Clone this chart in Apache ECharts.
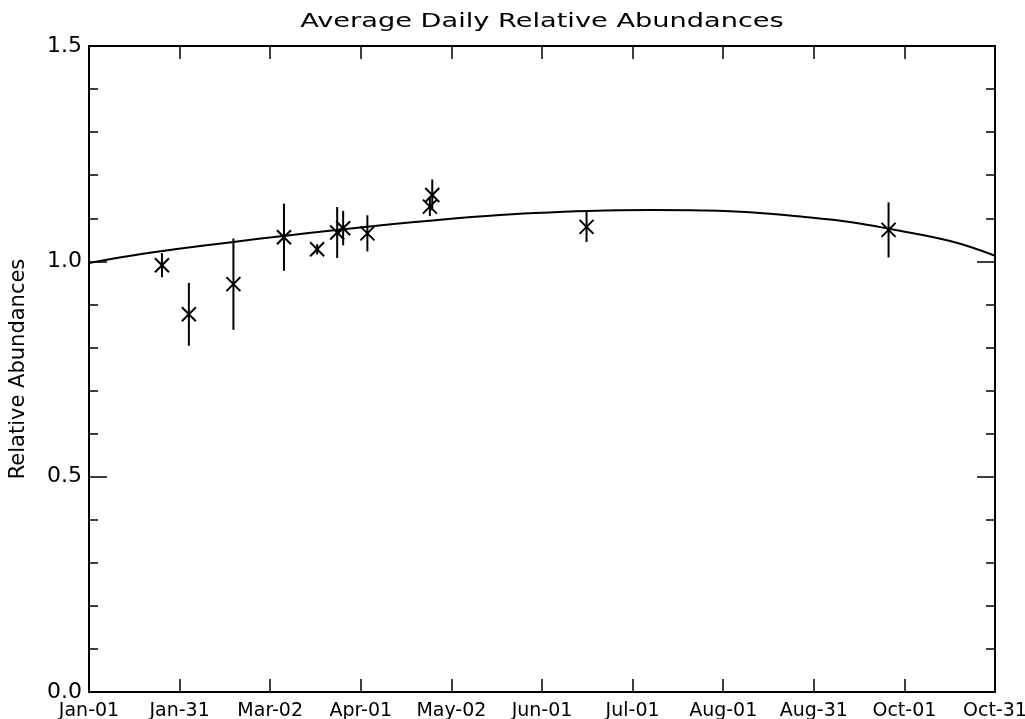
<!DOCTYPE html>
<html>
<head>
<meta charset="utf-8">
<title>Average Daily Relative Abundances</title>
<script src="https://cdn.jsdelivr.net/npm/echarts@6/dist/echarts.min.js"></script>
<style>
  html, body { margin: 0; padding: 0; background: #fff; }
  #chart { width: 1025px; height: 719px; }
</style>
</head>
<body>
<div id="chart"></div>
<script>
// Day-of-season axis: 0 = Jan-01, ticks every 30.3 days up to Oct-31
const xTickLabels = ['Jan-01', 'Jan-31', 'Mar-02', 'Apr-01', 'May-02', 'Jun-01',
                     'Jul-01', 'Aug-01', 'Aug-31', 'Oct-01', 'Oct-31'];
const xTickStep = 30.3;
const xMax = 303;

// Observed daily averages with their uncertainties
const obsDay   = [24.4, 33.4, 48.3, 65.2, 76.3, 83.0, 85.0, 93.1, 114.0, 114.8, 166.4, 267.4];
const obsValue = [0.991, 0.877, 0.947, 1.056, 1.028, 1.067, 1.077, 1.065, 1.127, 1.154, 1.080, 1.073];
const obsError = [0.028, 0.073, 0.106, 0.078, 0.012, 0.059, 0.040, 0.042, 0.022, 0.036, 0.035, 0.064];

// Seasonal fit curve
const fitDay   = [0, 15, 30, 47, 65, 82, 101, 115, 133, 149, 167, 188, 205, 221, 238, 255, 268, 288, 303];
const fitValue = [0.996, 1.014, 1.029, 1.044, 1.059, 1.072, 1.086, 1.095, 1.105, 1.112, 1.117,
                  1.119, 1.118, 1.114, 1.104, 1.091, 1.075, 1.047, 1.013];

const chartTitle = 'Average Daily Relative Abundances';

const FONT = 'DejaVu Sans';
const INK = '#000';

const obsData = obsDay.map((d, i) => [d, obsValue[i], obsError[i]]);
const fitData = fitDay.map((d, i) => [d, fitValue[i]]);

const chart = echarts.init(document.getElementById('chart'), null, { renderer: 'canvas' });

const xAxisBase = {
  type: 'value',
  min: 0,
  max: xMax,
  interval: xTickStep,
  splitLine: { show: false },
  axisLine: { show: true, onZero: false, lineStyle: { color: INK, width: 2 } },
  axisTick: { show: true, inside: true, length: 13, lineStyle: { color: INK, width: 1.5 } }
};
const yAxisBase = {
  type: 'value',
  min: 0,
  max: 1.5,
  interval: 0.5,
  splitLine: { show: false },
  axisLine: { show: true, onZero: false, lineStyle: { color: INK, width: 2 } },
  axisTick: { show: true, inside: true, length: 18, lineStyle: { color: INK, width: 1.5 } },
  minorTick: { show: true, splitNumber: 5, length: 9, lineStyle: { color: INK, width: 1.5 } }
};

chart.setOption({
  backgroundColor: '#fff',
  animation: false,
  // Wide, light lettering for the heading, centred over the plot frame
  graphic: [{
    type: 'text',
    x: 542,
    y: 22,
    scaleX: 1.36,
    style: {
      text: chartTitle,
      fontFamily: FONT,
      fontSize: 20,
      fill: INK,
      textAlign: 'center',
      textVerticalAlign: 'middle'
    }
  }],
  grid: { left: 89, right: 30, top: 46, bottom: 27, containLabel: false, outerBoundsMode: 'none' },
  xAxis: [
    Object.assign({}, xAxisBase, {
      position: 'bottom',
      axisLabel: {
        show: true,
        margin: 10,
        fontFamily: FONT,
        fontSize: 19,
        color: INK,
        formatter: v => xTickLabels[Math.round(v / xTickStep)] || ''
      }
    }),
    Object.assign({}, xAxisBase, {
      position: 'top',
      axisLabel: { show: false }
    })
  ],
  yAxis: [
    Object.assign({}, yAxisBase, {
      position: 'left',
      name: 'Relative Abundances',
      nameLocation: 'middle',
      nameRotate: 90,
      nameGap: 60,
      nameTextStyle: { fontFamily: FONT, fontSize: 21, color: INK },
      axisLabel: {
        show: true,
        margin: 7,
        fontFamily: FONT,
        fontSize: 22,
        color: INK,
        formatter: v => v.toFixed(1)
      }
    }),
    Object.assign({}, yAxisBase, {
      position: 'right',
      axisLabel: { show: false }
    })
  ],
  series: [
    {
      name: 'Fit',
      type: 'line',
      data: fitData,
      smooth: 0.4,
      showSymbol: false,
      lineStyle: { color: INK, width: 2 },
      z: 2
    },
    {
      name: 'Observed',
      type: 'custom',
      data: obsData,
      renderItem: function (params, api) {
        const x = api.value(0);
        const y = api.value(1);
        const e = api.value(2);
        const c = api.coord([x, y]);
        const hi = api.coord([x, y + e]);
        const lo = api.coord([x, y - e]);
        const h = 7;
        const style = { stroke: INK, lineWidth: 2 };
        return {
          type: 'group',
          children: [
            { type: 'line', shape: { x1: c[0], y1: hi[1], x2: c[0], y2: lo[1] }, style: style },
            { type: 'line', shape: { x1: c[0] - h, y1: c[1] - h, x2: c[0] + h, y2: c[1] + h }, style: style },
            { type: 'line', shape: { x1: c[0] - h, y1: c[1] + h, x2: c[0] + h, y2: c[1] - h }, style: style }
          ]
        };
      },
      z: 3
    }
  ]
});
</script>
</body>
</html>
